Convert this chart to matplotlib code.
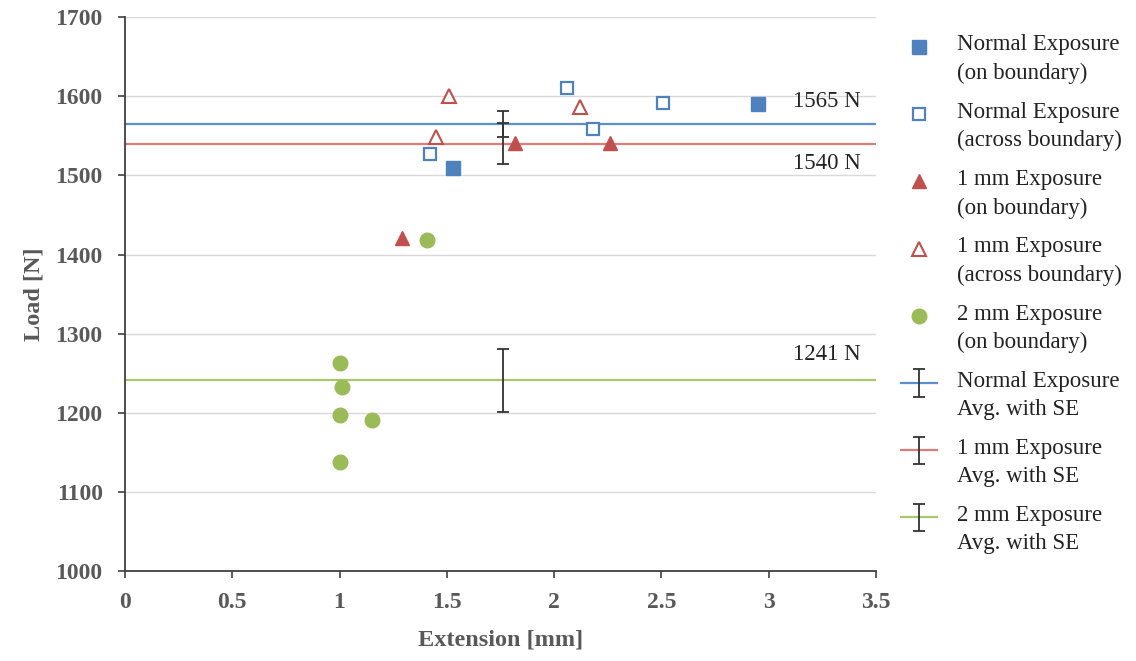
import numpy as np
import matplotlib.pyplot as plt
from matplotlib.lines import Line2D
from matplotlib.container import ErrorbarContainer
from matplotlib.legend_handler import HandlerLine2D, HandlerTuple, HandlerErrorbar
from matplotlib.transforms import Affine2D

# data (extension in mm, load in N)
normal_on_x = [1.53, 2.95]
normal_on_y = [1510, 1590]
normal_across_x = [1.42, 2.06, 2.18, 2.51]
normal_across_y = [1527, 1611, 1559, 1592]
mm1_on_x = [1.29, 1.82, 2.26]
mm1_on_y = [1421, 1541, 1541]
mm1_across_x = [1.45, 1.51, 2.12]
mm1_across_y = [1548, 1601, 1586]
mm2_on_x = [1.41, 1.00, 1.01, 1.00, 1.15, 1.00]
mm2_on_y = [1419, 1263, 1233, 1197, 1191, 1138]

avg_x = 1.76
avg_load = [1565, 1540, 1241]
avg_se = [17, 26, 40]
avg_text = ["1565 N", "1540 N", "1241 N"]

blue = "#4F81BD"
red = "#C0504D"
green = "#9BBB59"
line_cols = ["#5B8FD0", "#E07B78", "#A9C86B"]
grey = "#595959"

plt.rcParams["font.family"] = ["Liberation Serif", "DejaVu Serif"]
fs = 16.5

fig = plt.figure(figsize=(11.36, 6.61), dpi=100)
ax = fig.add_axes([0.110, 0.136, 0.661, 0.838])

h1, = ax.plot(normal_on_x, normal_on_y, "s", color=blue, ms=9.5, ls="none")
h2, = ax.plot(normal_across_x, normal_across_y, "s", mfc="white", mec=blue, mew=1.6, ms=9, ls="none")
h3, = ax.plot(mm1_on_x, mm1_on_y, "^", color=red, ms=10, ls="none")
h4, = ax.plot(mm1_across_x, mm1_across_y, "^", mfc="white", mec=red, mew=1.5, ms=10, ls="none")
h5, = ax.plot(mm2_on_x, mm2_on_y, "o", color=green, ms=10.5, ls="none")

avg_handles = []
for load, se, col in zip(avg_load, avg_se, line_cols):
    ln = ax.axhline(load, color=col, lw=1.6, zorder=1)
    eb = ax.errorbar([avg_x], [load], yerr=[se], fmt="none", ecolor="#333333",
                     elinewidth=1.3, capsize=4, capthick=1.3, zorder=3)
    avg_handles.append((ln, eb))

# value labels next to the average lines
ax.text(3.43, 1593, avg_text[0], ha="right", va="center", fontsize=fs, color="#222222")
ax.text(3.43, 1515, avg_text[1], ha="right", va="center", fontsize=fs, color="#222222")
ax.text(3.43, 1274, avg_text[2], ha="right", va="center", fontsize=fs, color="#222222")

ax.set_xlim(0, 3.5)
ax.set_ylim(1000, 1700)
ax.set_xticks(np.arange(0, 3.51, 0.5))
ax.set_xticklabels(["0", "0.5", "1", "1.5", "2", "2.5", "3", "3.5"])
ax.set_yticks(np.arange(1000, 1701, 100))
ax.grid(axis="y", color="#D9D9D9", lw=1)
ax.set_axisbelow(True)
for s in ["top", "right"]:
    ax.spines[s].set_visible(False)
for s in ["left", "bottom"]:
    ax.spines[s].set_color("#404040")
    ax.spines[s].set_linewidth(1.3)
ax.tick_params(axis="both", direction="out", length=5, width=1.2, color="#404040",
               labelsize=17, labelcolor=grey)
ax.tick_params(axis="y", pad=11)
ax.tick_params(axis="x", pad=10)
for lab in ax.get_xticklabels() + ax.get_yticklabels():
    lab.set_fontweight("bold")
ax.set_xlabel("Extension [mm]", fontsize=17.5, fontweight="bold", color=grey, labelpad=12)
ax.set_ylabel("Load [N]", fontsize=17.5, fontweight="bold", color=grey, labelpad=8)


# legend handles sit on the first line of the two-line labels
LIFT = 9


class UpLine(HandlerLine2D):
    def create_artists(self, legend, orig_handle, xdescent, ydescent, width, height, fontsize, trans):
        trans = Affine2D().translate(0, LIFT) + trans
        return super().create_artists(legend, orig_handle, xdescent, ydescent, width, height, fontsize, trans)


class UpErrorbar(HandlerErrorbar):
    def create_artists(self, legend, orig_handle, xdescent, ydescent, width, height, fontsize, trans):
        trans = Affine2D().translate(0, LIFT) + trans
        return super().create_artists(legend, orig_handle, xdescent, ydescent, width, height, fontsize, trans)


handles = [h1, h2, h3, h4, h5] + avg_handles
labels = ["Normal Exposure\n(on boundary)", "Normal Exposure\n(across boundary)",
          "1 mm Exposure\n(on boundary)", "1 mm Exposure\n(across boundary)",
          "2 mm Exposure\n(on boundary)", "Normal Exposure\nAvg. with SE",
          "1 mm Exposure\nAvg. with SE", "2 mm Exposure\nAvg. with SE"]
leg = fig.legend(handles, labels, loc="upper left", bbox_to_anchor=(0.793, 0.948),
                 frameon=False, fontsize=fs, numpoints=1, handlelength=1.57,
                 handletextpad=0.9, labelspacing=0.78, borderpad=0, borderaxespad=0,
                 handler_map={Line2D: UpLine(), ErrorbarContainer: UpErrorbar(yerr_size=0.6),
                              tuple: HandlerTuple(ndivide=1, pad=0)})
for t in leg.get_texts():
    t.set_color("#222222")
    t.set_linespacing(1.45)

fig.savefig("out.png", dpi=100)
